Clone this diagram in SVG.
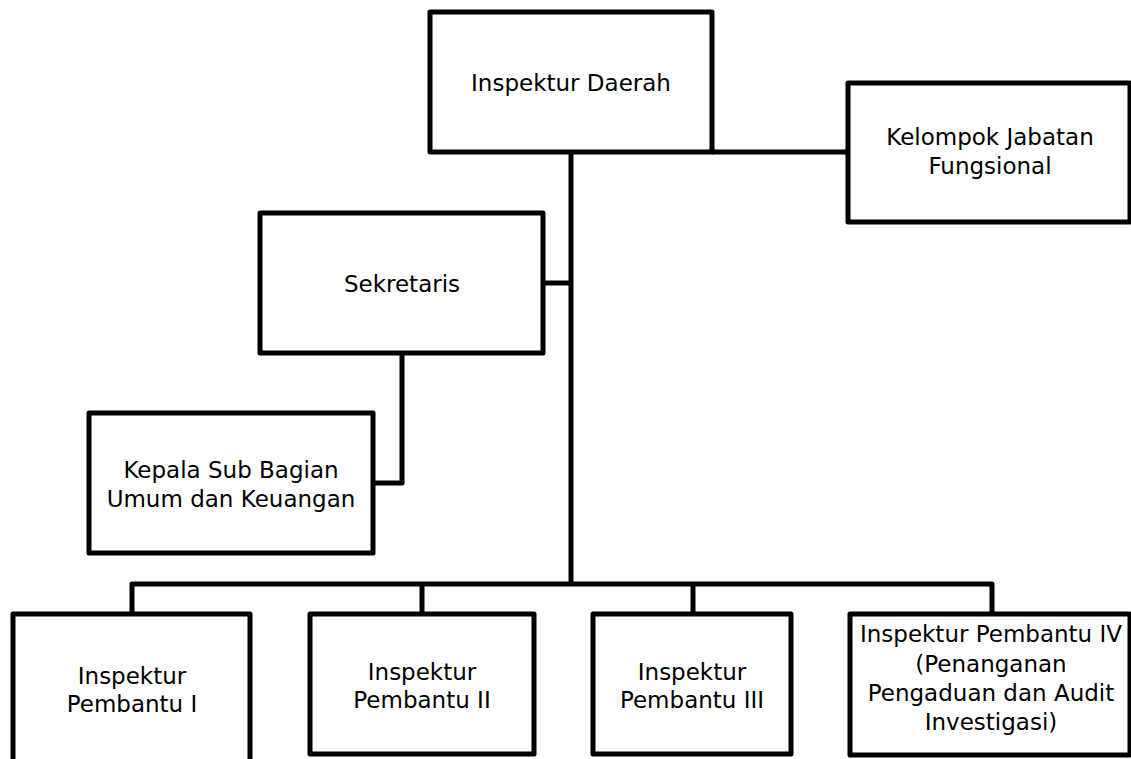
<svg xmlns="http://www.w3.org/2000/svg" width="1131" height="759" viewBox="0 0 1131 759">
<style>
.box{fill:#fff;stroke:#000;stroke-width:5;stroke-linejoin:round}
.lbl{font-family:"DejaVu Sans",Verdana,sans-serif;font-size:23px;fill:#000;text-anchor:middle}
.con{fill:none;stroke:#000;stroke-width:5;stroke-linejoin:round}
</style>
<rect width="1131" height="759" fill="#fff"/>
<g id="connectors">
<path class="con" d="M571,152 V584"/>
<path class="con" d="M712,152 H848"/>
<path class="con" d="M543,283 H571"/>
<path class="con" d="M402,353 V483 H373"/>
<path class="con" d="M132,614 V584 H992 V614"/>
<path class="con" d="M422,584 V614"/>
<path class="con" d="M693,584 V614"/>
</g>
<g id="inspektur-daerah">
<rect class="box" x="430" y="12" width="282" height="140"/>
<text class="lbl" x="571" y="91">Inspektur Daerah</text>
</g>
<g id="kelompok-jabatan-fungsional">
<rect class="box" x="848" y="83" width="282" height="139"/>
<text class="lbl" x="990" y="145">Kelompok Jabatan</text>
<text class="lbl" x="990" y="174">Fungsional</text>
</g>
<g id="sekretaris">
<rect class="box" x="260" y="213" width="283" height="140"/>
<text class="lbl" x="402" y="292">Sekretaris</text>
</g>
<g id="kepala-sub-bagian">
<rect class="box" x="89" y="413" width="284" height="140"/>
<text class="lbl" x="231" y="478">Kepala Sub Bagian</text>
<text class="lbl" x="231" y="507">Umum dan Keuangan</text>
</g>
<g id="inspektur-pembantu-1">
<rect class="box" x="13" y="614" width="237" height="156"/>
<text class="lbl" x="132" y="684">Inspektur</text>
<text class="lbl" x="132" y="712">Pembantu I</text>
</g>
<g id="inspektur-pembantu-2">
<rect class="box" x="310" y="614" width="224" height="140"/>
<text class="lbl" x="422" y="680">Inspektur</text>
<text class="lbl" x="422" y="708">Pembantu II</text>
</g>
<g id="inspektur-pembantu-3">
<rect class="box" x="593" y="614" width="198" height="140"/>
<text class="lbl" x="692" y="680">Inspektur</text>
<text class="lbl" x="692" y="708">Pembantu III</text>
</g>
<g id="inspektur-pembantu-4">
<rect class="box" x="850" y="614" width="280" height="141"/>
<text class="lbl" x="991" y="642">Inspektur Pembantu IV</text>
<text class="lbl" x="991" y="672">(Penanganan</text>
<text class="lbl" x="991" y="701">Pengaduan dan Audit</text>
<text class="lbl" x="991" y="730">Investigasi)</text>
</g>
</svg>
